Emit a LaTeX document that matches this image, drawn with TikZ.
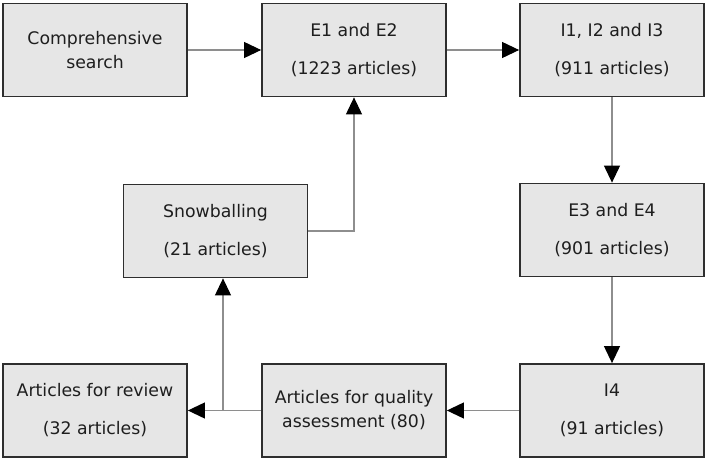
\documentclass[tikz,border=0pt]{standalone}
\usepackage{fontspec}
\setmainfont{DejaVu Sans}
\usetikzlibrary{arrows.meta}
\definecolor{boxfill}{HTML}{E6E6E6}
\definecolor{boxline}{HTML}{2E2E2E}
\definecolor{linkgray}{HTML}{8E8E8E}
\definecolor{txt}{HTML}{1E1E1E}
\begin{document}
\begin{tikzpicture}[x=1bp,y=-1bp,
  stagebox/.style={draw=boxline, fill=boxfill, line width=1.8bp,
    minimum width=184bp, minimum height=93bp, inner sep=0pt,
    align=center, text=txt, font=\fontsize{17.3bp}{24bp}\selectfont},
  link/.style={draw=linkgray, line width=1.1bp,
    -{Triangle[length=17bp,width=16bp,color=black,fill=black]}}]
\useasboundingbox (0,0) rectangle (705,459);

% top row
\node[stagebox] (cs)  at (95,50)    {Comprehensive\\search};
\node[stagebox] (e12) at (354,50)   {E1 and E2\\[14bp](1223 articles)};
\node[stagebox] (i13) at (612,50)   {I1, I2 and I3\\[14bp](911 articles)};
% middle row
\node[stagebox] (snow) at (215.5,231) {Snowballing\\[14bp](21 articles)};
\node[stagebox] (e34)  at (612,230)   {E3 and E4\\[14bp](901 articles)};
% bottom row
\node[stagebox] (rev) at (95,410.5)  {Articles for review\\[14bp](32 articles)};
\node[stagebox] (qa)  at (354,410.5) {Articles for quality\\assessment (80)};
\node[stagebox] (i4)  at (612,410.5) {I4\\[14bp](91 articles)};

% branching point between the two bottom-left boxes
\coordinate (split) at (223,410.5);

% connectors
\draw[link] (cs.east) -- (e12.west);
\draw[link] (e12.east) -- (i13.west);
\draw[link] (i13.south) -- (e34.north);
\draw[link] (e34.south) -- (i4.north);
\draw[link] (i4.west) -- (qa.east);
\draw[link] (qa.west) -- (rev.east);
\draw[link] (split) -- (split |- snow.south);
\draw[link] (snow.east) -| (e12.south);
\end{tikzpicture}
\end{document}
